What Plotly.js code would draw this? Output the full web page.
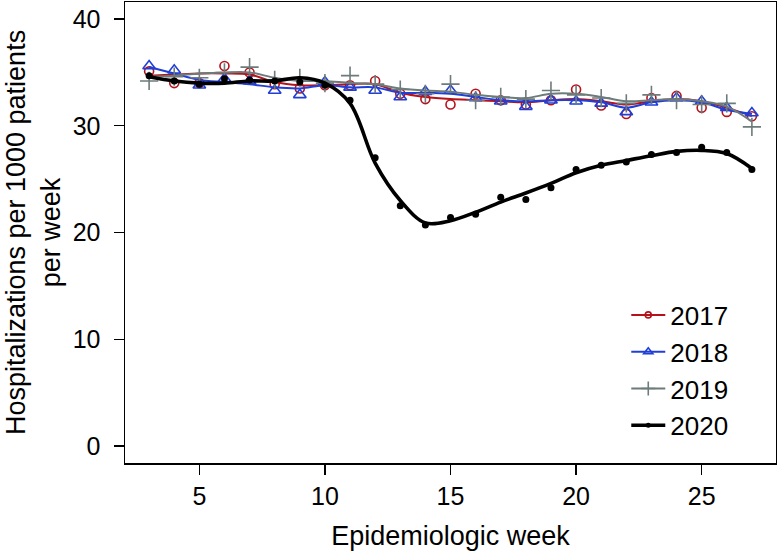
<!DOCTYPE html>
<html><head><meta charset="utf-8">
<script src="https://cdn.plot.ly/plotly-3.0.1.min.js"></script>
<style>html,body{margin:0;padding:0;background:#fff}#c{width:777px;height:553px}</style>
</head><body><div id="c"></div>
<script>
const weeks = [3,4,5,6,7,8,9,10,11,12,13,14,15,16,17,18,19,20,21,22,23,24,25,26,27];
const y2017 = [35.1,34.0,34.0,35.6,35.0,33.9,33.5,33.8,33.8,34.2,33.0,32.5,32.0,33.0,32.4,32.0,32.4,33.4,31.9,31.1,32.6,32.8,31.7,31.3,30.9];
const y2018 = [35.6,35.2,33.8,34.4,34.2,33.3,32.9,34.1,33.6,33.3,32.7,33.2,33.3,32.6,32.3,31.8,32.4,32.3,32.1,31.3,32.2,32.6,32.3,31.7,31.2];
const y2019 = [34.2,34.6,34.5,35.0,35.5,34.3,34.5,34.0,34.7,33.9,33.4,33.0,33.9,32.4,32.7,32.5,33.3,32.9,32.6,32.1,32.9,32.4,32.0,32.1,29.9];
const y2020 = [34.7,34.2,33.9,34.4,34.3,34.2,34.1,33.8,32.4,27.0,22.5,20.7,21.4,21.7,23.3,23.1,24.2,25.9,26.3,26.6,27.3,27.5,28.0,27.5,25.9];
// smoothed fitted curves
const fit2017 = [34.7,34.8,34.9,34.9,34.8,34.1,33.8,33.8,33.9,33.9,33.1,32.7,32.5,32.4,32.3,32.2,32.4,32.5,32.3,32.0,32.3,32.5,32.3,31.7,30.9];
const fit2018 = [35.5,34.9,34.3,34.1,33.9,33.6,33.5,33.8,33.6,33.6,33.1,33.1,33.0,32.7,32.4,32.3,32.4,32.4,32.2,31.7,32.2,32.4,32.2,31.5,31.1];
const fit2019 = [34.6,34.7,34.9,35.0,35.0,34.5,34.2,34.2,34.0,33.9,33.5,33.3,33.2,32.9,32.7,32.6,33.0,33.0,32.7,32.3,32.4,32.5,32.3,31.8,30.4];
const fit2020 = [34.6,34.2,34.0,34.0,34.2,34.2,34.5,34.0,32.1,26.5,23.0,20.9,21.1,21.9,22.85,23.7,24.6,25.6,26.3,26.75,27.2,27.6,27.7,27.4,26.0];
const labels = ['2017','2018','2019','2020'];
const colors = ['#b5121b','#1f3fd6','#6e7b7b','#000000'];

const pts = [y2017,y2018,y2019,y2020];
const fits = [fit2017,fit2018,fit2019,fit2020];
const markers = [
  {symbol:'circle-open', size:9, line:{width:1.6}},
  {symbol:'triangle-up-open', size:11, line:{width:1.6}},
  {symbol:'cross-thin-open', size:13, line:{width:1.6}},
  {symbol:'circle', size:7}
];
const lw = [2,2,2,3.6];
const traces = [];
for (let i=0;i<4;i++){
  const mk = Object.assign({color:colors[i]}, JSON.parse(JSON.stringify(markers[i])));
  if (mk.line) mk.line.color = colors[i];
  traces.push({x:weeks, y:fits[i], mode:'lines', line:{color:colors[i], width:lw[i], shape:'spline', smoothing:1}, showlegend:false, hoverinfo:'skip'});
  traces.push({x:weeks, y:pts[i], mode:'markers', marker:mk, showlegend:false});
}
for (let i=0;i<4;i++){
  const mk = Object.assign({color:colors[i]}, JSON.parse(JSON.stringify(markers[i])));
  if (mk.line) mk.line.color = colors[i];
  mk.size = Math.max(5, mk.size-3);
  traces.push({x:[null], y:[null], mode:'lines+markers', name:labels[i], line:{color:colors[i], width:lw[i]}, marker:mk});
}
const fontFam = 'Liberation Sans, Arial, Helvetica, sans-serif';
const layout = {
  width:777, height:553,
  margin:{l:125, r:1, t:2, b:90},
  paper_bgcolor:'#fff', plot_bgcolor:'#fff',
  font:{family:fontFam, color:'#000', size:25},
  xaxis:{range:[2.04,27.96], tickvals:[5,10,15,20,25], ticks:'outside', ticklen:10, tickwidth:1.3, tickcolor:'#000',
    showline:true, linecolor:'#000', linewidth:1.5, mirror:true, showgrid:false, zeroline:false,
    tickfont:{size:25}, title:{text:'Epidemiologic week', font:{size:27}, standoff:17}},
  yaxis:{range:[-1.6,41.6], tickvals:[0,10,20,30,40], ticks:'outside', ticklen:10, tickwidth:1.3, tickcolor:'#000',
    showline:true, linecolor:'#000', linewidth:1.5, mirror:true, showgrid:false, zeroline:false, ticklabelstandoff:8,
    tickfont:{size:25}, title:{text:'Hospitalizations per 1000 patients<br>per week', font:{size:27}, standoff:4}},
  legend:{x:0.770, y:0.372, xanchor:'left', yanchor:'top', bgcolor:'rgba(0,0,0,0)', font:{size:26}, tracegroupgap:0, itemwidth:34},
  showlegend:true
};
Plotly.newPlot('c', traces, layout, {staticPlot:true, displayModeBar:false});
</script></body></html>
